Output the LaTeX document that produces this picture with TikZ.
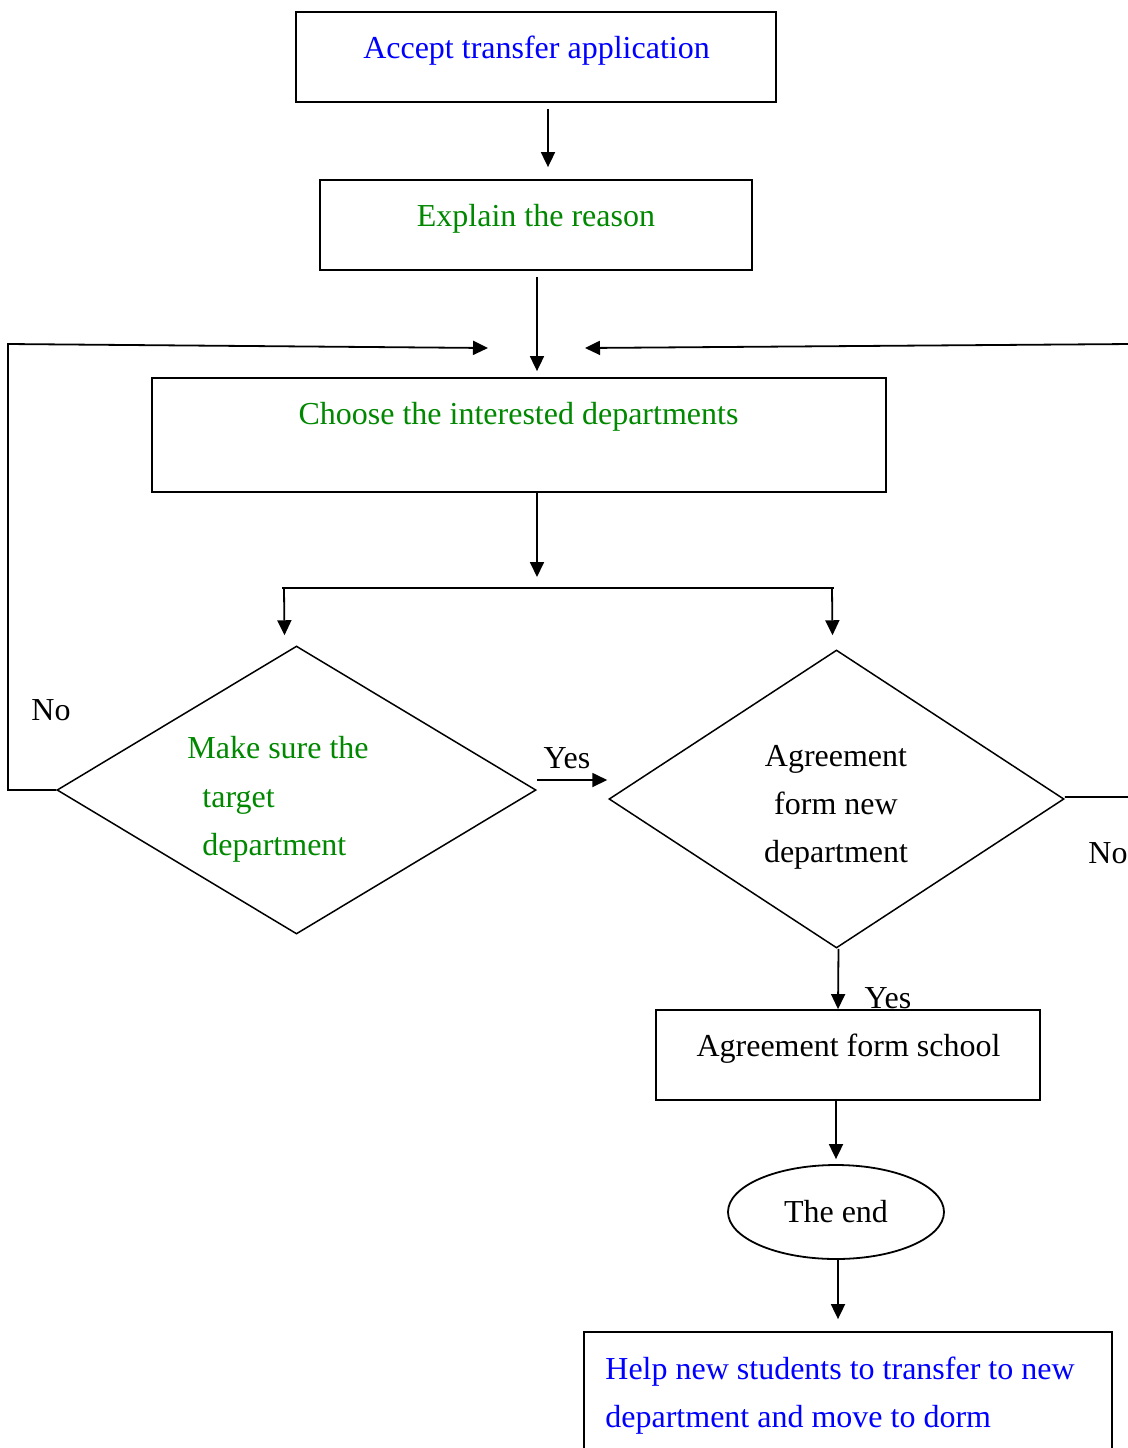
\documentclass[tikz,border=0pt]{standalone}
\usepackage{fontspec}
\setmainfont{Liberation Serif}
\usetikzlibrary{arrows.meta,shapes.geometric}
\definecolor{fgreen}{RGB}{0,136,0}
\definecolor{fblue}{RGB}{0,0,255}
\tikzset{
  box/.style={draw,line width=0.9pt,rectangle,inner sep=0pt},
  dia/.style={draw,line width=0.75pt,diamond,inner sep=0pt,aspect=1},
  ell/.style={draw,line width=0.9pt,ellipse,inner sep=0pt},
  txt/.style={inner sep=0pt,font=\fontsize{16}{24}\selectfont},
  arr/.style={line width=0.9pt,-{Triangle[length=7.5pt,width=7pt]}},
  ln/.style={line width=0.9pt},
}
\begin{document}
\begin{tikzpicture}[x=0.5pt,y=-0.5pt]
\useasboundingbox (0,0) rectangle (1128,1448);
\clip (0,0) rectangle (1128,1448);
% boxes
\node[box,minimum width=240pt,minimum height=45pt] (b1) at (536,57) {};
\node[box,minimum width=216pt,minimum height=45pt] (b2) at (536,225) {};
\node[box,minimum width=367pt,minimum height=57pt] (b3) at (519,435) {};
\node[dia,minimum width=239.5pt,minimum height=144pt] (d1) at (296.5,790) {};
\node[dia,minimum width=227.5pt,minimum height=149pt] (d2) at (836.5,799) {};
\node[box,minimum width=192pt,minimum height=45pt] (b4) at (848,1055) {};
\node[ell,minimum width=108pt,minimum height=47pt] (e) at (836,1212) {};
\node[box,minimum width=264pt,minimum height=70pt] (b5) at (848,1402) {};
% texts
\node[txt,text=fblue,anchor=base] (t1) at (536.5,58) {Accept transfer application};
\node[txt,text=fgreen,anchor=base] (t2) at (536,226) {Explain the reason};
\node[txt,text=fgreen,anchor=base] (t3) at (518.5,424) {Choose the interested departments};
\node[txt,text=fgreen,anchor=base west] (t4a) at (187,758) {Make sure the};
\node[txt,text=fgreen,anchor=base west] (t4b) at (202,807) {target};
\node[txt,text=fgreen,anchor=base west] (t4c) at (202,855) {department};
\node[txt,anchor=base] (t5a) at (836,766) {Agreement};
\node[txt,anchor=base] (t5b) at (836,814) {form new};
\node[txt,anchor=base] (t5c) at (836,862) {department};
\node[txt,anchor=base] (t6) at (848.5,1056) {Agreement form school};
\node[txt,anchor=base] (t7) at (836,1222) {The end};
\node[txt,text=fblue,anchor=base west] (t8a) at (605,1379) {Help new students to transfer to new};
\node[txt,text=fblue,anchor=base west] (t8b) at (605,1427) {department and move to dorm};
\node[txt,anchor=base] (yes1) at (567,768) {Yes};
\node[txt,anchor=base] (yes2) at (888,1008) {Yes};
\node[txt,anchor=base] (no1) at (51,720) {No};
\node[txt,anchor=base west] (no2) at (1088,863) {No};
% helper coordinates
\coordinate (Lb) at (8,790);
\coordinate (Lt) at (8,344);
\coordinate (La) at (488,348);
\coordinate (Rb) at (1131,797);
\coordinate (Rt) at (1131,344);
\coordinate (Ra) at (585,348);
\coordinate (s) at (537,577);
\coordinate (barL) at (282,588);
\coordinate (barR) at (834,588);
\coordinate (sL) at (284,588);
\coordinate (sR) at (832,588);
% connectors
\draw[arr] ([shift={(12,6)}]b1.south) -- ([shift={(12,-12)}]b2.north);
\draw[arr] ([shift={(1,6)}]b2.south) -- ([shift={(18,-6)}]b3.north);
\draw[arr] (d1.west) -- (Lb) -- (Lt) -- (La);
\draw[arr] ([shift={(0,-2)}]d2.east) -- (Rb) -- (Rt) -- (Ra);
\draw[arr] ([shift={(18,0)}]b3.south) -- (s);
\draw[ln] (barL) -- (barR);
\draw[arr] (sL) -- ([shift={(-12,-10)}]d1.north);
\draw[arr] (sR) -- ([shift={(-4,-14)}]d2.north);
\draw[arr] ([shift={(0,-10)}]d1.east) -- ([shift={(-1,-19)}]d2.west);
\draw[arr] ([shift={(2,0)}]d2.south) -- ([shift={(-10,0)}]b4.north);
\draw[arr] ([shift={(-12,-2)}]b4.south) -- ([shift={(0,-5)}]e.north);
\draw[arr] ([shift={(2,0)}]e.south) -- ([shift={(-10,-12)}]b5.north);
\end{tikzpicture}
\end{document}
